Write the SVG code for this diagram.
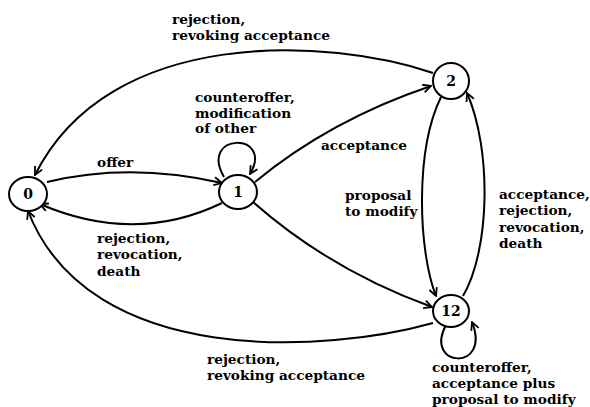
<svg xmlns="http://www.w3.org/2000/svg" width="590" height="407" viewBox="0 0 590 407">
<style>
.n{fill:#fff;stroke:#000;stroke-width:2}
.e{fill:none;stroke:#000;stroke-width:2}
.t{font-family:"DejaVu Serif","Liberation Serif",serif;font-weight:bold;font-size:13.7px;fill:#000}
.nl{font-family:"DejaVu Serif","Liberation Serif",serif;font-weight:bold;font-size:14px;fill:#000;text-anchor:middle}
</style>
<defs>
<marker id="a" viewBox="0 0 10 10" refX="9" refY="5" markerWidth="10" markerHeight="10" markerUnits="userSpaceOnUse" orient="auto">
<path d="M1,1 L9,5 L1,9" fill="none" stroke="#000" stroke-width="1.8"/>
</marker>
</defs>
<rect width="590" height="407" fill="#fff"/>
<g id="connectors">
<path class="e" d="M47,182 Q130,162 222,183" marker-end="url(#a)"/>
<path class="e" d="M222,203 Q135,245 40,204" marker-end="url(#a)"/>
<path class="e" d="M433,73 C330,38 110,25 35,175" marker-end="url(#a)"/>
<path class="e" d="M224,177 C198,132 275,132 250,174" marker-end="url(#a)"/>
<path class="e" d="M255,182 Q330,120 431,86" marker-end="url(#a)"/>
<path class="e" d="M253,202 Q330,270 432,307" marker-end="url(#a)"/>
<path class="e" d="M441,97 C415,150 418,250 436,296" marker-end="url(#a)"/>
<path class="e" d="M463,296 C490,250 492,150 467,93" marker-end="url(#a)"/>
<path class="e" d="M433,323 C330,352 90,370 28,211" marker-end="url(#a)"/>
<path class="e" d="M446,325 C423,368 492,372 472,322" marker-end="url(#a)"/>
<text class="t" x="172" y="24">rejection,</text>
<text class="t" x="172" y="40">revoking acceptance</text>
<text class="t" x="195" y="102">counteroffer,</text>
<text class="t" x="195" y="118">modification</text>
<text class="t" x="195" y="133">of other</text>
<text class="t" x="97" y="167">offer</text>
<text class="t" x="321" y="150">acceptance</text>
<text class="t" x="97" y="243">rejection,</text>
<text class="t" x="97" y="259">revocation,</text>
<text class="t" x="97" y="276">death</text>
<text class="t" x="345" y="200">proposal</text>
<text class="t" x="345" y="216">to modify</text>
<text class="t" x="499" y="199">acceptance,</text>
<text class="t" x="499" y="215">rejection,</text>
<text class="t" x="499" y="232">revocation,</text>
<text class="t" x="499" y="248">death</text>
<text class="t" x="207" y="364">rejection,</text>
<text class="t" x="207" y="380">revoking acceptance</text>
<text class="t" x="432" y="372">counteroffer,</text>
<text class="t" x="432" y="388">acceptance plus</text>
<text class="t" x="432" y="404">proposal to modify</text>
</g>
<g id="node0"><ellipse class="n" cx="28" cy="194" rx="19" ry="17"/><text class="nl" x="28" y="199">0</text></g>
<g id="node1"><ellipse class="n" cx="238" cy="192" rx="19" ry="17"/><text class="nl" x="238" y="197">1</text></g>
<g id="node2"><ellipse class="n" cx="451" cy="81" rx="18" ry="18"/><text class="nl" x="451" y="86">2</text></g>
<g id="node12"><ellipse class="n" cx="451" cy="311" rx="18" ry="16"/><text class="nl" x="451" y="316">12</text></g>
</svg>
